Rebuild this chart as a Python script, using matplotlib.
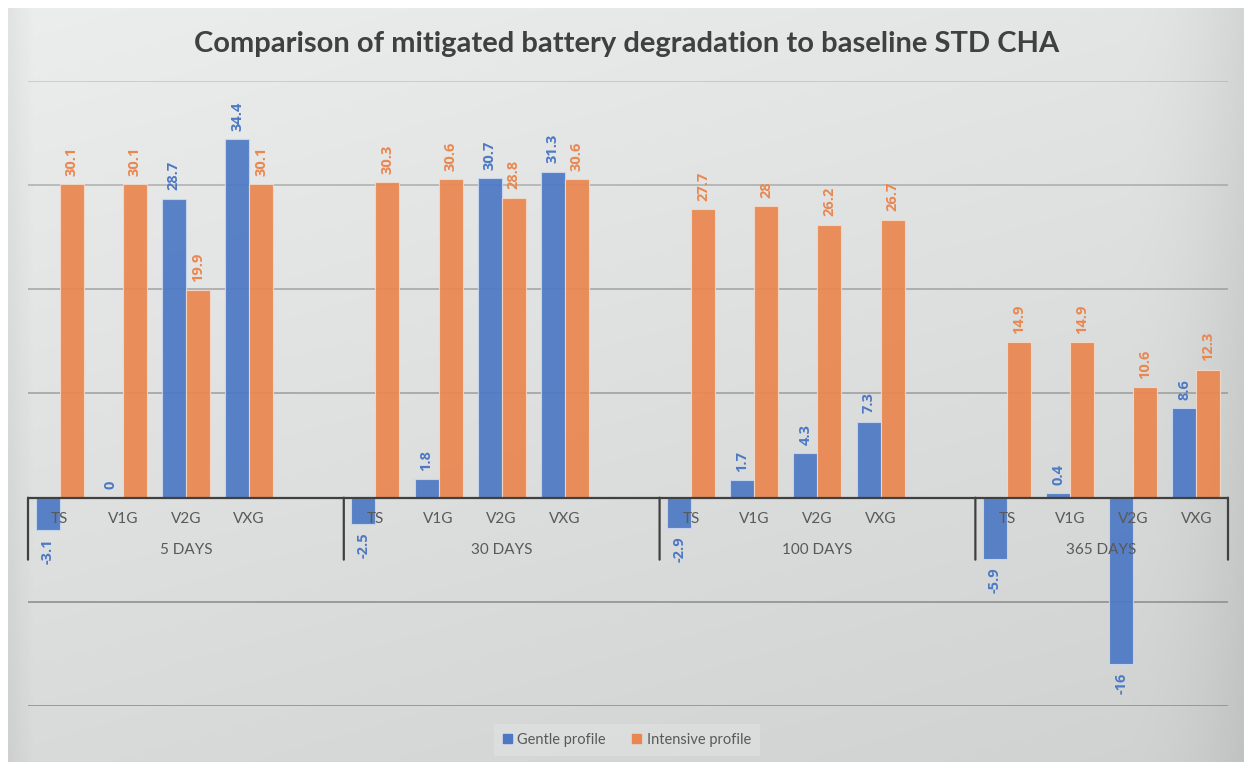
import numpy as np
import matplotlib.pyplot as plt
from matplotlib.patches import Patch

# categories: 4 periods x 4 charging strategies
periods = ['5 DAYS', '30 DAYS', '100 DAYS', '365 DAYS']
strategies = ['TS', 'V1G', 'V2G', 'VXG']

gentle = [[-3.1, 0, 28.7, 34.4],
          [-2.5, 1.8, 30.7, 31.3],
          [-2.9, 1.7, 4.3, 7.3],
          [-5.9, 0.4, -16, 8.6]]
intensive = [[30.1, 30.1, 19.9, 30.1],
             [30.3, 30.6, 28.8, 30.6],
             [27.7, 28, 26.2, 26.7],
             [14.9, 14.9, 10.6, 12.3]]

title = 'Comparison of mitigated battery degradation to baseline STD CHA'
series_names = ['Gentle profile', 'Intensive profile']
blue = '#4D79C4'
orange = '#EA8750'
txt = '#595959'

plt.rcParams['font.family'] = ['Lato', 'DejaVu Sans']

W, H = 1244, 762
fig = plt.figure(figsize=(W / 100, H / 100), dpi=100, facecolor='white')

# soft grey gradient background of the chart area
bg = fig.add_axes([8 / W, 0, 1 - 8 / W, 1 - 8 / H], zorder=-10)
xx, yy = np.meshgrid(np.linspace(0, 1, 400), np.linspace(0, 1, 250))
g = 0.925 - 0.035 * xx - 0.075 * yy - 0.06 * np.clip((xx - 0.9) / 0.1, 0, 1) ** 2
g -= 0.04 * np.clip((0.02 - xx) / 0.02, 0, 1)
rgb = np.dstack([g, g + 0.006, g + 0.006])
bg.imshow(np.clip(rgb, 0, 1), aspect='auto', extent=[0, 1, 1, 0])
bg.set_axis_off()

ax = fig.add_axes([28 / W, 1 - 706 / H, 1200 / W, (706 - 81) / H])
ax.set_facecolor('none')

# 5 slots per period (last slot empty), last period has no trailing slot
pos = []
for gi in range(len(periods)):
    pos.extend([gi * 5 + i for i in range(len(strategies))])
pos = np.array(pos, dtype=float)
gv = np.array(gentle).ravel()
iv = np.array(intensive).ravel()

bw = 0.38
for vals, off, col in [(gv, -bw / 2, blue), (iv, bw / 2, orange)]:
    ax.bar(pos + off, vals, width=bw, color=col, alpha=0.93,
           edgecolor='#F3D9C8' if col == orange else '#C9D6EE', linewidth=0.8, zorder=3)
    for x, v in zip(pos + off, vals):
        lab = f'{v:g}'
        ax.annotate(lab, (x, v), xytext=(0, 6 if v >= 0 else -6), textcoords='offset points',
                    rotation=90, ha='center', va='bottom' if v >= 0 else 'top',
                    color=col, fontsize=10.5, fontweight='bold', family='Open Sans', zorder=5)

ax.set_xlim(-0.5, 18.5)
ax.set_ylim(-20, 40)
grid_alpha = {40: 0.35, 30: 0.55, 20: 0.65, 10: 0.7, -10: 0.9, -20: 0.9}
for yv, a in grid_alpha.items():
    ax.axhline(yv, color='#8E8E8E', lw=1.3, alpha=a, zorder=1)
ax.axhline(0, color='#404040', lw=1.6, zorder=6)

for s in ax.spines.values():
    s.set_visible(False)
ax.set_xticks([])
ax.set_yticks([])

# two-level category axis drawn below the zero line
ppu = (706 - 81) / 60.0
for p, lab in zip(pos, strategies * len(periods)):
    ax.annotate(lab, (p, 0), xytext=(0, -21 * 0.72), textcoords='offset points',
                ha='center', va='center', color=txt, fontsize=11, zorder=7,
                annotation_clip=False)
bounds = [-0.5, 4.5, 9.5, 14.5, 18.5]
for b in bounds:
    ax.annotate('', (b, 0), xytext=(b, -62 / ppu), textcoords='data',
                arrowprops=dict(arrowstyle='-', color='#404040', lw=1.6,
                                shrinkA=0, shrinkB=0), zorder=6, annotation_clip=False)
for gi, name in enumerate(periods):
    c = (bounds[gi] + bounds[gi + 1]) / 2
    ax.annotate(name, (c, 0), xytext=(0, -52 * 0.72), textcoords='offset points',
                ha='center', va='center', color=txt, fontsize=11, zorder=7,
                annotation_clip=False)

fig.text(627 / W, 1 - 44 / H, title, ha='center', va='center',
         fontsize=21, fontweight='bold', color='#404040')

handles = [Patch(color=blue), Patch(color=orange)]
leg = fig.legend(handles, series_names, loc='center', bbox_to_anchor=(627 / W, 1 - 740 / H),
                 ncol=2, frameon=True, fontsize=10.5, handlelength=0.6, handleheight=0.6,
                 handletextpad=0.4, columnspacing=1.8, borderpad=0.6)
leg.get_frame().set_facecolor('#DEDFDF')
leg.get_frame().set_edgecolor('none')
leg.get_frame().set_boxstyle('square', pad=0)
for t in leg.get_texts():
    t.set_color(txt)

fig.savefig('out.png', dpi=100, facecolor='white')
